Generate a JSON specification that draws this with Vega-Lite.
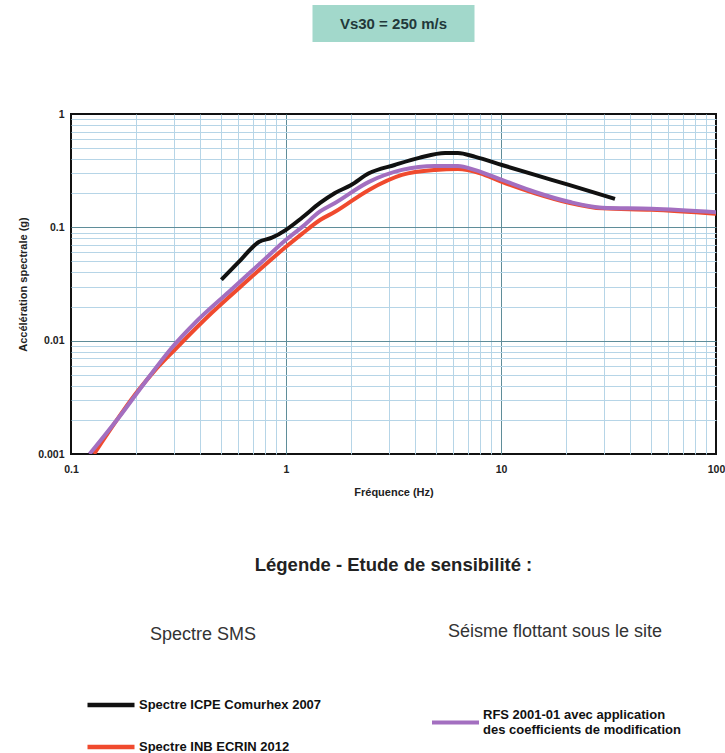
{
  "$schema": "https://vega.github.io/schema/vega-lite/v6.json",
  "background": "white",
  "padding": {"left": 16, "top": 5, "right": 0, "bottom": 0},
  "config": {"font": "Liberation Sans", "view": {"stroke": null}},
  "datasets": {
    "spectra": [
      {"f": 0.5, "a": 0.0345, "serie": "Spectre ICPE Comurhex 2007", "groupe": "SMS"},
      {"f": 0.6, "a": 0.049, "serie": "Spectre ICPE Comurhex 2007", "groupe": "SMS"},
      {"f": 0.75, "a": 0.0745, "serie": "Spectre ICPE Comurhex 2007", "groupe": "SMS"},
      {"f": 0.86, "a": 0.081, "serie": "Spectre ICPE Comurhex 2007", "groupe": "SMS"},
      {"f": 1.0, "a": 0.095, "serie": "Spectre ICPE Comurhex 2007", "groupe": "SMS"},
      {"f": 1.19, "a": 0.122, "serie": "Spectre ICPE Comurhex 2007", "groupe": "SMS"},
      {"f": 1.44, "a": 0.164, "serie": "Spectre ICPE Comurhex 2007", "groupe": "SMS"},
      {"f": 1.69, "a": 0.201, "serie": "Spectre ICPE Comurhex 2007", "groupe": "SMS"},
      {"f": 2.0, "a": 0.235, "serie": "Spectre ICPE Comurhex 2007", "groupe": "SMS"},
      {"f": 2.43, "a": 0.3, "serie": "Spectre ICPE Comurhex 2007", "groupe": "SMS"},
      {"f": 3.2, "a": 0.355, "serie": "Spectre ICPE Comurhex 2007", "groupe": "SMS"},
      {"f": 4.16, "a": 0.41, "serie": "Spectre ICPE Comurhex 2007", "groupe": "SMS"},
      {"f": 5.5, "a": 0.453, "serie": "Spectre ICPE Comurhex 2007", "groupe": "SMS"},
      {"f": 6.3, "a": 0.453, "serie": "Spectre ICPE Comurhex 2007", "groupe": "SMS"},
      {"f": 7.6, "a": 0.418, "serie": "Spectre ICPE Comurhex 2007", "groupe": "SMS"},
      {"f": 10.1, "a": 0.355, "serie": "Spectre ICPE Comurhex 2007", "groupe": "SMS"},
      {"f": 14.4, "a": 0.29, "serie": "Spectre ICPE Comurhex 2007", "groupe": "SMS"},
      {"f": 20.7, "a": 0.237, "serie": "Spectre ICPE Comurhex 2007", "groupe": "SMS"},
      {"f": 33.9, "a": 0.178, "serie": "Spectre ICPE Comurhex 2007", "groupe": "SMS"},
      {"f": 0.128, "a": 0.001, "serie": "Spectre INB ECRIN 2012", "groupe": "SMS"},
      {"f": 0.207, "a": 0.0037, "serie": "Spectre INB ECRIN 2012", "groupe": "SMS"},
      {"f": 0.24, "a": 0.0052, "serie": "Spectre INB ECRIN 2012", "groupe": "SMS"},
      {"f": 0.311, "a": 0.0087, "serie": "Spectre INB ECRIN 2012", "groupe": "SMS"},
      {"f": 0.453, "a": 0.0177, "serie": "Spectre INB ECRIN 2012", "groupe": "SMS"},
      {"f": 0.644, "a": 0.0324, "serie": "Spectre INB ECRIN 2012", "groupe": "SMS"},
      {"f": 1.0, "a": 0.0673, "serie": "Spectre INB ECRIN 2012", "groupe": "SMS"},
      {"f": 1.19, "a": 0.088, "serie": "Spectre INB ECRIN 2012", "groupe": "SMS"},
      {"f": 1.44, "a": 0.116, "serie": "Spectre INB ECRIN 2012", "groupe": "SMS"},
      {"f": 1.69, "a": 0.137, "serie": "Spectre INB ECRIN 2012", "groupe": "SMS"},
      {"f": 2.43, "a": 0.214, "serie": "Spectre INB ECRIN 2012", "groupe": "SMS"},
      {"f": 3.46, "a": 0.29, "serie": "Spectre INB ECRIN 2012", "groupe": "SMS"},
      {"f": 4.93, "a": 0.321, "serie": "Spectre INB ECRIN 2012", "groupe": "SMS"},
      {"f": 6.3, "a": 0.327, "serie": "Spectre INB ECRIN 2012", "groupe": "SMS"},
      {"f": 8.0, "a": 0.3, "serie": "Spectre INB ECRIN 2012", "groupe": "SMS"},
      {"f": 10.1, "a": 0.252, "serie": "Spectre INB ECRIN 2012", "groupe": "SMS"},
      {"f": 14.4, "a": 0.2, "serie": "Spectre INB ECRIN 2012", "groupe": "SMS"},
      {"f": 20.7, "a": 0.165, "serie": "Spectre INB ECRIN 2012", "groupe": "SMS"},
      {"f": 29.6, "a": 0.147, "serie": "Spectre INB ECRIN 2012", "groupe": "SMS"},
      {"f": 50, "a": 0.143, "serie": "Spectre INB ECRIN 2012", "groupe": "SMS"},
      {"f": 100, "a": 0.132, "serie": "Spectre INB ECRIN 2012", "groupe": "SMS"},
      {"f": 0.122, "a": 0.001, "serie": "RFS 2001-01 avec application des coefficients de modification", "groupe": "RFS"},
      {"f": 0.17, "a": 0.0022, "serie": "RFS 2001-01 avec application des coefficients de modification", "groupe": "RFS"},
      {"f": 0.221, "a": 0.0043, "serie": "RFS 2001-01 avec application des coefficients de modification", "groupe": "RFS"},
      {"f": 0.295, "a": 0.0087, "serie": "RFS 2001-01 avec application des coefficients de modification", "groupe": "RFS"},
      {"f": 0.378, "a": 0.0144, "serie": "RFS 2001-01 avec application des coefficients de modification", "groupe": "RFS"},
      {"f": 0.543, "a": 0.027, "serie": "RFS 2001-01 avec application des coefficients de modification", "groupe": "RFS"},
      {"f": 0.773, "a": 0.0497, "serie": "RFS 2001-01 avec application des coefficients de modification", "groupe": "RFS"},
      {"f": 1.0, "a": 0.0776, "serie": "RFS 2001-01 avec application des coefficients de modification", "groupe": "RFS"},
      {"f": 1.19, "a": 0.101, "serie": "RFS 2001-01 avec application des coefficients de modification", "groupe": "RFS"},
      {"f": 1.44, "a": 0.138, "serie": "RFS 2001-01 avec application des coefficients de modification", "groupe": "RFS"},
      {"f": 1.69, "a": 0.164, "serie": "RFS 2001-01 avec application des coefficients de modification", "groupe": "RFS"},
      {"f": 2.43, "a": 0.252, "serie": "RFS 2001-01 avec application des coefficients de modification", "groupe": "RFS"},
      {"f": 3.46, "a": 0.321, "serie": "RFS 2001-01 avec application des coefficients de modification", "groupe": "RFS"},
      {"f": 4.93, "a": 0.348, "serie": "RFS 2001-01 avec application des coefficients de modification", "groupe": "RFS"},
      {"f": 6.3, "a": 0.348, "serie": "RFS 2001-01 avec application des coefficients de modification", "groupe": "RFS"},
      {"f": 7.6, "a": 0.32, "serie": "RFS 2001-01 avec application des coefficients de modification", "groupe": "RFS"},
      {"f": 10.1, "a": 0.262, "serie": "RFS 2001-01 avec application des coefficients de modification", "groupe": "RFS"},
      {"f": 14.4, "a": 0.205, "serie": "RFS 2001-01 avec application des coefficients de modification", "groupe": "RFS"},
      {"f": 20.7, "a": 0.168, "serie": "RFS 2001-01 avec application des coefficients de modification", "groupe": "RFS"},
      {"f": 29.6, "a": 0.149, "serie": "RFS 2001-01 avec application des coefficients de modification", "groupe": "RFS"},
      {"f": 50, "a": 0.146, "serie": "RFS 2001-01 avec application des coefficients de modification", "groupe": "RFS"},
      {"f": 100, "a": 0.136, "serie": "RFS 2001-01 avec application des coefficients de modification", "groupe": "RFS"}
    ]
  },
  "vconcat": [
    {
      "width": 162,
      "height": 37,
      "view": {"fill": "#a2d8cb", "stroke": null},
      "data": {"values": [{"texte": "Vs30 = 250 m/s"}]},
      "mark": {"type": "text", "fontSize": 15, "fontWeight": "bold", "color": "#22383a"},
      "encoding": {"text": {"field": "texte", "type": "nominal"}}
    },
    {
      "width": 645,
      "height": 340,
      "view": {"stroke": "#111111", "strokeWidth": 2, "fill": "white"},
      "data": {"name": "spectra"},
      "encoding": {
        "x": {
          "field": "f",
          "type": "quantitative",
          "title": "Fréquence (Hz)",
          "scale": {"type": "log", "domain": [0.1, 100], "nice": false},
          "axis": {
            "values": [0.1, 0.2, 0.3, 0.4, 0.5, 0.6, 0.7, 0.8, 0.9, 1, 2, 3, 4, 5, 6, 7, 8, 9, 10, 20, 30, 40, 50, 60, 70, 80, 90, 100],
            "labelExpr": "abs(log(datum.value)/LN10 - round(log(datum.value)/LN10)) < 1e-6 ? format(datum.value, '~g') : ''",
            "gridColor": {"condition": {"test": "abs(log(datum.value)/LN10 - round(log(datum.value)/LN10)) < 1e-6", "value": "#5f8d99"}, "value": "#b6d5e7"},
            "gridOpacity": {"condition": {"test": "datum.value < 0.1001 || datum.value > 99.9", "value": 0}, "value": 1},
            "gridWidth": 1,
            "domain": false,
            "ticks": false,
            "labelOverlap": false,
            "labelFlush": false,
            "labelPadding": 10,
            "labelFontSize": 10.5,
            "labelFontWeight": "bold",
            "labelColor": "#222222",
            "titleFontSize": 11,
            "titleFontWeight": "bold",
            "titleColor": "#222222",
            "titlePadding": 12
          }
        },
        "y": {
          "field": "a",
          "type": "quantitative",
          "title": "Accélération spectrale (g)",
          "scale": {"type": "log", "domain": [0.001, 1], "nice": false},
          "axis": {
            "values": [0.001, 0.002, 0.003, 0.004, 0.005, 0.006, 0.007, 0.008, 0.009, 0.01, 0.02, 0.03, 0.04, 0.05, 0.06, 0.07, 0.08, 0.09, 0.1, 0.2, 0.3, 0.4, 0.5, 0.6, 0.7, 0.8, 0.9, 1],
            "labelExpr": "abs(log(datum.value)/LN10 - round(log(datum.value)/LN10)) < 1e-6 ? format(datum.value, '~g') : ''",
            "gridColor": {"condition": {"test": "abs(log(datum.value)/LN10 - round(log(datum.value)/LN10)) < 1e-6", "value": "#5f8d99"}, "value": "#b6d5e7"},
            "gridOpacity": {"condition": {"test": "datum.value < 0.001001 || datum.value > 0.999", "value": 0}, "value": 1},
            "gridWidth": 1,
            "domain": false,
            "ticks": false,
            "labelOverlap": false,
            "labelFlush": false,
            "labelPadding": 7,
            "labelFontSize": 10.5,
            "labelFontWeight": "bold",
            "labelColor": "#222222",
            "titleFontSize": 11,
            "titleFontWeight": "bold",
            "titleColor": "#222222",
            "titlePadding": 9
          }
        }
      },
      "layer": [
        {
          "transform": [{"filter": "datum.groupe == 'SMS'"}],
          "mark": {"type": "line", "strokeWidth": 4, "clip": true, "interpolate": "monotone"},
          "encoding": {
            "color": {
              "field": "serie",
              "type": "nominal",
              "scale": {"domain": ["Spectre ICPE Comurhex 2007", "Spectre INB ECRIN 2012"], "range": ["#111111", "#f04a2e"]},
              "legend": {
                "orient": "none",
                "legendX": 14,
                "legendY": 512,
                "direction": "vertical",
                "title": "Spectre SMS",
                "titleFontSize": 18,
                "titleFontWeight": "normal",
                "titleColor": "#333333",
                "titleAnchor": "middle",
                "titleLimit": 400,
                "titlePadding": 55,
                "symbolType": "stroke",
                "symbolSize": 2209,
                "symbolStrokeWidth": 4.5,
                "labelFontSize": 13,
                "labelFontWeight": "bold",
                "labelColor": "#111111",
                "labelOffset": 2,
                "labelLimit": 400,
                "clipHeight": 12,
                "rowPadding": 29
              }
            }
          }
        },
        {
          "transform": [{"filter": "datum.groupe == 'RFS'"}],
          "mark": {"type": "line", "strokeWidth": 4, "clip": true, "interpolate": "monotone"},
          "encoding": {
            "color": {
              "field": "serie",
              "type": "nominal",
              "scale": {"domain": ["RFS 2001-01 avec application des coefficients de modification"], "range": ["#a36fc0"]},
              "legend": {
                "orient": "none",
                "legendX": 359,
                "legendY": 509,
                "direction": "vertical",
                "title": "Séisme flottant sous le site",
                "titleFontSize": 18,
                "titleFontWeight": "normal",
                "titleColor": "#333333",
                "titleAnchor": "middle",
                "titleLimit": 400,
                "titlePadding": 56,
                "symbolType": "stroke",
                "symbolSize": 2209,
                "symbolStrokeWidth": 4,
                "labelFontSize": 13,
                "labelFontWeight": "bold",
                "labelColor": "#111111",
                "labelOffset": 2,
                "labelLimit": 400,
                "labelExpr": "['RFS 2001-01 avec application', 'des coefficients de modification']",
                "encode": {"labels": {"update": {"lineHeight": {"value": 15}, "dy": {"value": -8}}}}
              }
            }
          }
        }
      ],
      "resolve": {"scale": {"color": "independent"}}
    },
    {
      "width": 645,
      "height": 78,
      "view": {"stroke": null},
      "data": {"values": [{"texte": "Légende - Etude de sensibilité :"}]},
      "mark": {"type": "text", "fontSize": 18.5, "fontWeight": "bold", "color": "#222222"},
      "encoding": {"text": {"field": "texte", "type": "nominal"}}
    }
  ],
  "spacing": 72,
  "bounds": "flush",
  "center": true
}
